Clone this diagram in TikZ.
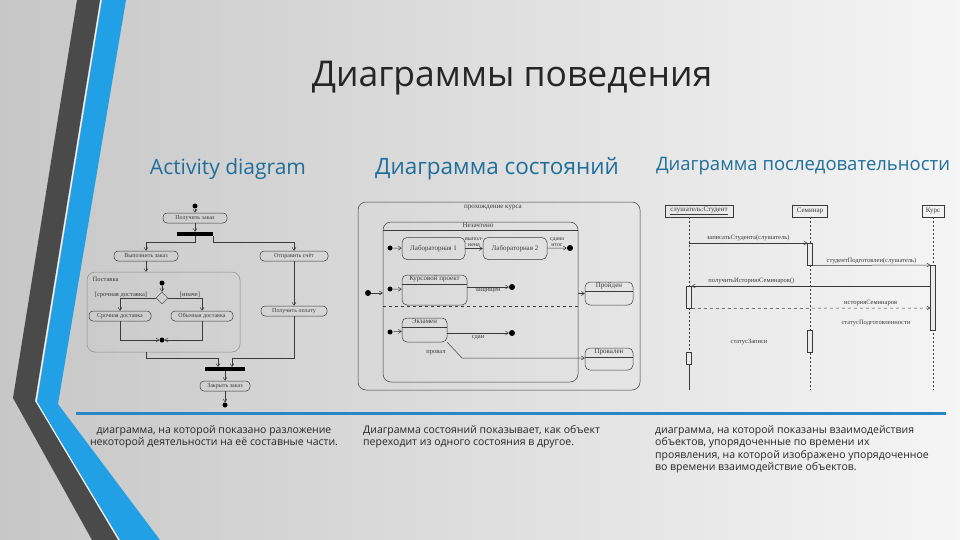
\documentclass[tikz,border=0pt]{standalone}
\usepackage{fontspec}
\setmainfont{Open Sans}
\newfontfamily\diafont{Liberation Serif}
\usetikzlibrary{shapes.geometric,arrows.meta}
\definecolor{bandgray}{HTML}{4A4A4A}
\definecolor{bandblue}{HTML}{22A0E6}
\definecolor{linblue}{HTML}{2A86C4}
\definecolor{headblue}{HTML}{1F6F9A}
\definecolor{txt}{HTML}{262626}
\definecolor{dl}{HTML}{3A3A3A}
\tikzset{
  act/.style={draw=dl,rounded corners=4pt,line width=0.5pt,minimum height=10pt,inner sep=1pt,font=\diafont\fontsize{6}{7}\selectfont,text=dl},
  st/.style={draw=dl,rounded corners=5pt,line width=0.5pt,inner sep=1pt,font=\diafont\fontsize{7}{8}\selectfont,text=dl},
  lbl/.style={font=\diafont\fontsize{6.5}{7}\selectfont,text=dl,inner sep=0.5pt},
  dot/.style={circle,fill=black,inner sep=0pt,minimum size=6pt},
  bar/.style={fill=black,inner sep=0pt,minimum height=4pt},
  cn/.style={draw=dl,line width=0.5pt,-{Straight Barb[length=3pt,width=4pt]}},
  ln/.style={draw=dl,line width=0.5pt},
  life/.style={draw=dl,line width=0.5pt,dash pattern=on 2pt off 2pt},
  actv/.style={draw=dl,fill=white!92!black,line width=0.5pt,minimum width=5pt,inner sep=0pt},
  hd/.style={font=\fontsize{21}{24}\selectfont,text=headblue},
  body/.style={font=\fontsize{10.5}{12.5}\selectfont,text=txt,align=left,anchor=north west,inner sep=0pt}
}
\begin{document}
\begin{tikzpicture}[x=1pt,y=-1pt]
\useasboundingbox (0,0) rectangle (960,540);
\shade[left color=black!22,right color=black!4] (0,0) rectangle (960,540);
\fill[bandgray] (77,0) -- (100,0) -- (35,401) -- (118,540) -- (92,540) -- (13,398) -- cycle;
\fill[bandblue] (102,0) -- (126,0) -- (58,404) -- (160,540) -- (120,540) -- (37,402) -- cycle;
\draw[white,line width=0.8pt] (101,0) -- (36,401) -- (119,540);
\draw[linblue,line width=3pt] (76,413) -- (946,413);

\node[font=\fontsize{35.5}{40}\selectfont,text=txt] (title) at (512,78) {Диаграммы поведения};
\node[hd] (h1) at (228,169) {Activity diagram};
\node[hd,font=\fontsize{22.5}{25}\selectfont] (h2) at (497,169) {Диаграмма состояний};
\node[hd,font=\fontsize{18.5}{21}\selectfont] (h3) at (803,166) {Диаграмма последовательности};

% ---------- activity diagram
\node[dot,minimum size=5pt] (a0) at (195,206) {};
\node[act,minimum width=64pt] (a1) at (195,218) {Получить заказ};
\node[bar,minimum width=36pt] (f1) at (195,234) {};
\node[act,minimum width=64pt] (a2) at (146,256) {Выполнить заказ};
\node[act,minimum width=68pt] (a3) at (294,256) {Отправить счёт};
\draw[ln,rounded corners=8pt,draw=black!45] (87,272) rectangle (240,352);
\node[lbl,anchor=west] (reg) at (92,279) {Поставка};
\node[dot,minimum size=5pt] (a4) at (162,283) {};
\node[diamond,draw=dl,inner sep=0pt,minimum size=12pt] (d1) at (162,298) {};
\node[lbl] (g1) at (121,295) {[срочная доставка]};
\node[lbl] (g2) at (190,295) {[иначе]};
\node[act,minimum width=62pt] (a5) at (120,316) {Срочная доставка};
\node[act,minimum width=62pt] (a6) at (202,316) {Обычная доставка};
\node[dot,minimum size=5pt] (a7) at (162,340) {};
\node[act,minimum width=66pt] (a8) at (294,311) {Получить оплату};
\node[bar,minimum width=40pt] (f2) at (225,369) {};
\node[act,minimum width=50pt] (a9) at (225,386) {Закрыть заказ};
\node[dot,minimum size=5pt] (a10) at (225,405) {};
\coordinate (rb) at (146,352);
\draw[cn] (a0) -- (a1);
\draw[cn] (a1) -- (f1);
\draw[cn] (f1.south) |- ++(-10,6) -| (a2.north);
\draw[cn] (f1.south east) |- ++(0,6) -| (a3.north);
\draw[cn] (a2) -- (146,272);
\draw[cn] (a4) -- (d1);
\draw[cn] (d1.west) -| (a5.north);
\draw[cn] (d1.east) -| (a6.north);
\draw[cn] (a5.south) |- (a7.west);
\draw[cn] (a6.south) |- (a7.east);
\draw[cn] (a3) -- (a8);
\draw[cn] (rb) |- (218,358) -- (218,367);
\draw[cn] (a8.south) |- (232,358) -- (232,367);
\draw[cn] (f2) -- (a9);
\draw[cn] (a9) -- (a10);

% ---------- state diagram
\draw[ln,rounded corners=8pt] (358,202) rectangle (640,390);
\node[lbl,font=\diafont\fontsize{7}{8}\selectfont] (sc) at (493,208) {прохождение курса};
\node[draw=dl,line width=0.5pt,rounded corners=8pt,minimum width=195pt,minimum height=160pt,inner sep=0pt] (ne) at (480.5,302) {};
\draw[ln] (383,230) -- (578,230);
\node[lbl,font=\diafont\fontsize{7}{8}\selectfont] (net) at (478,225.5) {Незачтено};
\draw[ln,dashed] (383,306) -- (578,306);
\node[dot] (s0) at (368,293) {};
\draw[cn] (s0) -- (ne.west |- s0);
\node[dot,minimum size=5pt] (s1) at (390,248) {};
\node[st,minimum width=63pt,minimum height=22pt] (l1) at (433.5,248.5) {Лабораторная 1};
\node[st,minimum width=64pt,minimum height=22pt] (l2) at (515,248.5) {Лабораторная 2};
\node[dot,minimum size=6pt] (s2) at (570,248) {};
\draw[cn] (s1) -- (l1);
\draw[cn] (l1) -- (l2) node[lbl,midway,above=1pt,align=center,font=\diafont\fontsize{6}{6}\selectfont] {выпол-\\нена};
\draw[cn] (l2) -- (s2) node[lbl,midway,above=1pt,align=center,font=\diafont\fontsize{6}{6}\selectfont] {сдана\\итог};
\node[dot,minimum size=5pt] (s3) at (390,289) {};
\node[st,minimum width=65pt,minimum height=30pt] (kp) at (434.5,290) {};
\node[lbl,anchor=north,font=\diafont\fontsize{7}{8}\selectfont] (kpt) at (kp.north) {Курсовой проект};
\draw[ln] (kp.west |- 284,284) -- (kp.east |- 284,284);
\node[dot,minimum size=6pt] (s4) at (512,287) {};
\draw[cn] (s3) -- (kp);
\draw[cn] (kp.east |- s4) -- (s4) node[lbl,midway,below=1pt] {защищен};
\node[dot,minimum size=5pt] (s5) at (390,332) {};
\node[st,minimum width=45pt,minimum height=24pt] (ex) at (424.5,330) {};
\node[lbl,anchor=north,font=\diafont\fontsize{7}{8}\selectfont] (ext) at (ex.north) {Экзамен};
\draw[ln] (ex.west |- 327,327) -- (ex.east |- 327,327);
\node[dot,minimum size=6pt] (s6) at (512,333) {};
\draw[cn] (s5) -- (ex);
\draw[cn] (ex.east |- s6) -- (s6) node[lbl,pos=0.5,below=2pt] {сдан};
\node[st,minimum width=48pt,minimum height=23pt] (pr) at (609,293.5) {};
\node[lbl,anchor=north,font=\diafont\fontsize{7}{8}\selectfont] (prt) at (pr.north) {Пройден};
\draw[ln] (pr.west |- 291,291) -- (pr.east |- 291,291);
\node[st,minimum width=48pt,minimum height=22pt] (pv) at (609,359) {};
\node[lbl,anchor=north,font=\diafont\fontsize{7}{8}\selectfont] (pvt) at (pv.north) {Провален};
\draw[ln] (pv.west |- 357,357) -- (pv.east |- 357,357);
\draw[cn] (ne.east |- pr.west) -- (pr.west);
\draw[cn] (ex.south east) -- (462,358) -- (pv.west |- 358,358);
\node[lbl] (prv) at (436,353) {провал};

% ---------- sequence diagram
\node[draw=dl,line width=0.5pt,minimum width=68pt,minimum height=12pt,inner sep=0pt,font=\diafont\fontsize{7}{8}\selectfont,text=dl] (o1) at (699,211) {\underline{слушатель:Студент}};
\node[draw=dl,line width=0.5pt,minimum width=35pt,minimum height=12pt,inner sep=0pt,font=\diafont\fontsize{7}{8}\selectfont,text=dl] (o2) at (810,211) {Семинар};
\node[draw=dl,line width=0.5pt,minimum width=22pt,minimum height=12pt,inner sep=0pt,font=\diafont\fontsize{7}{8}\selectfont,text=dl] (o3) at (933,211) {Курс};
\coordinate (e1) at (689,390);
\coordinate (e2) at (810,390);
\coordinate (e3) at (933,390);
\draw[life] (689,217) -- (689,286);
\draw[life] (689,308) -- (689,352);
\draw[ln] (689,352) -- (e1);
\draw[life] (o2.south) -- (e2);
\draw[life] (o3.south) -- (e3);
\node[actv,minimum height=22pt,anchor=north] (b1) at (810,243) {};
\node[actv,minimum height=65pt,anchor=north] (b2) at (933,265) {};
\node[actv,minimum height=22pt,anchor=north] (b3) at (689,286) {};
\node[actv,minimum height=22pt,anchor=north] (b4) at (810,330) {};
\node[actv,minimum height=12pt,anchor=north] (b5) at (689,352) {};
\draw[cn] (689,243) -- (b1.north west) node[lbl,midway,above=1pt] {записатьСтудента(слушатель)};
\draw[cn] (b1.south east) -- (b2.north west) node[lbl,midway,above=1pt] {студентПодготовлен(слушатель)};
\draw[cn] (b2.west |- 286,286) -- (b3.north east) node[lbl,pos=0.75,above=1pt] {получитьИсториюСеминаров()};
\draw[cn,dashed] (b3.south east) -- (b2.west |- 308,308) node[lbl,pos=0.75,above=1pt] {историяСеминаров};
\node[lbl] (m5) at (876,323) {статусПодготовленности};
\node[lbl] (m6) at (749,342) {статусЗаписи};

% ---------- captions
\node[body,align=center,anchor=north] (c1) at (214,425) {диаграмма, на которой показано разложение\\некоторой деятельности на её составные части.};
\node[body] (c2) at (363,425) {Диаграмма состояний показывает, как объект\\переходит из одного состояния в другое.};
\node[body] (c3) at (655,425) {диаграмма, на которой показаны взаимодействия\\объектов, упорядоченные по времени их\\проявления, на которой изображено упорядоченное\\во времени взаимодействие объектов.};
\end{tikzpicture}
\end{document}
